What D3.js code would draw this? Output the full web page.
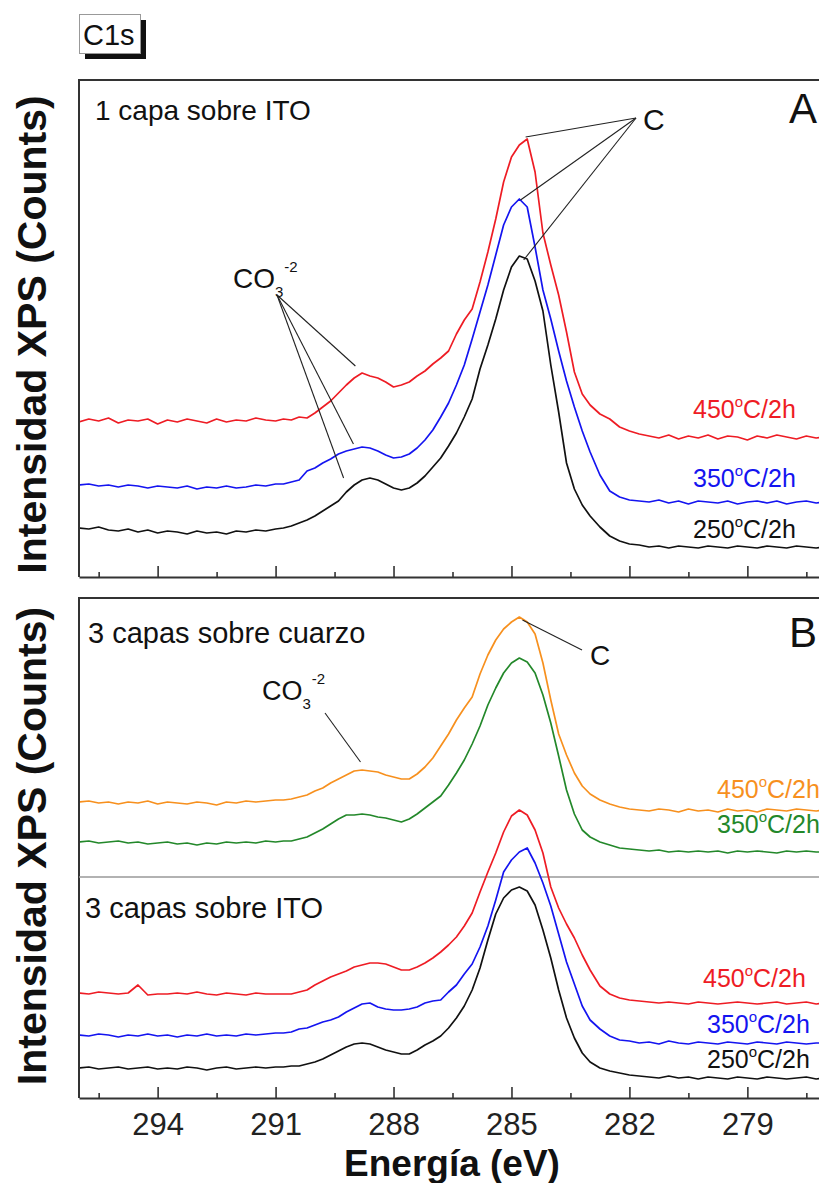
<!DOCTYPE html>
<html>
<head>
<meta charset="utf-8">
<script src="https://cdn.jsdelivr.net/npm/d3@7/dist/d3.min.js"></script>
<style>
  body { margin: 0; background: #fff; }
  svg { display: block; font-family: "Liberation Sans", Arial, sans-serif; }
</style>
</head>
<body>
<svg id="chart"></svg>
<script>
// C1s XPS spectra, two stacked panels

// Binding energy grid (eV), shared by every spectrum
const energy = [
  296, 295.75, 295.5, 295.25, 295, 294.75, 294.5, 294.25, 294, 293.75, 293.5, 293.25, 293, 292.75, 292.5, 292.25, 292, 291.75, 291.5, 291.25, 291,
  290.8, 290.6, 290.4, 290.2, 290.0, 289.8, 289.6, 289.4, 289.2, 289.0, 288.8, 288.6, 288.4, 288.2, 288.0, 287.8, 287.6, 287.4, 287.2, 287.0,
  286.8, 286.6, 286.4, 286.2, 286.0, 285.8, 285.6, 285.4, 285.2, 285.0, 284.8, 284.6, 284.4, 284.2, 284.0, 283.8, 283.6, 283.4, 283.2, 283.0,
  282.75, 282.5, 282.25, 282, 281.75, 281.5, 281.25, 281, 280.75, 280.5, 280.25, 280, 279.75, 279.5, 279.25, 279, 278.75, 278.5, 278.25, 278, 277.75, 277.5, 277.25, 277
];

// Panel A: 1 capa sobre ITO (counts, offset for display)
const itoOne450 = [
  155, 158, 156, 159, 154, 157, 156, 158, 153, 157, 155, 158, 156, 154, 158, 155, 157, 156, 159, 157, 156,
  158, 157, 160, 159, 164, 170, 176, 184, 192, 199, 204, 201, 199, 195, 190, 192, 195, 201, 206, 213,
  219, 226, 243, 257, 268, 295, 325, 358, 395, 420, 432, 438, 405, 344, 312, 282, 245, 205, 183, 172,
  163, 158, 150, 146, 143, 141, 139, 142, 138, 141, 139, 142, 138, 141, 140, 137, 141, 139, 142, 140, 138, 141, 139, 140
];
const itoOne350 = [
  92, 93, 91, 92, 90, 92, 91, 89, 91, 90, 89, 91, 88, 90, 89, 91, 89, 90, 92, 91, 93,
  93, 95, 97, 106, 109, 114, 118, 123, 126, 128, 130, 129, 126, 122, 119, 120, 123, 129, 137, 147,
  160, 174, 192, 212, 238, 265, 292, 322, 352, 370, 378, 370, 330, 287, 258, 226, 196, 170, 146, 125,
  102, 86, 80, 77, 76, 75, 77, 74, 76, 73, 76, 75, 74, 76, 73, 75, 76, 74, 76, 73, 75, 76, 74, 75
];
const itoOne250 = [
  49, 48, 50, 47, 46, 48, 45, 47, 44, 46, 45, 43, 46, 44, 45, 43, 46, 45, 47, 46, 48,
  49, 51, 54, 57, 61, 66, 71, 76, 85, 92, 97, 99, 97, 93, 89, 87, 89, 94, 101, 110,
  119, 131, 144, 160, 178, 208, 232, 258, 287, 310, 321, 318, 296, 266, 212, 165, 114, 88, 72, 61,
  50, 41, 36, 33, 32, 30, 31, 29, 31, 30, 29, 31, 30, 29, 31, 30, 29, 31, 30, 29, 31, 30, 29, 30
];

// Panel B: 3 capas sobre cuarzo
const quartz450 = [
  296, 297, 295, 296, 294, 296, 295, 297, 294, 296, 295, 294, 296, 295, 293, 296, 295, 297, 296, 297, 298,
  298, 299, 301, 303, 307, 310, 315, 319, 323, 327, 328, 327, 326, 323, 321, 319, 319, 324, 331, 340,
  352, 364, 378, 390, 401, 424, 443, 458, 469, 476, 481, 476, 464, 435, 398, 364, 343, 325, 312, 304,
  298, 294, 291, 289, 288, 287, 289, 288, 286, 289, 287, 288, 286, 289, 287, 288, 286, 289, 288, 287, 289, 288, 287, 288
];
const quartz350 = [
  256, 257, 255, 256, 257, 255, 256, 254, 255, 256, 254, 255, 253, 255, 254, 256, 255, 256, 255, 257, 256,
  257, 257, 259, 261, 265, 269, 274, 279, 283, 283, 284, 283, 281, 280, 278, 276, 279, 284, 290, 296,
  302, 313, 325, 338, 354, 372, 393, 410, 425, 435, 440, 436, 425, 403, 375, 342, 308, 284, 268, 261,
  256, 253, 250, 249, 248, 247, 248, 246, 247, 246, 247, 246, 247, 245, 247, 246, 247, 246, 245, 247, 246, 247, 246, 246
];

// Panel B: 3 capas sobre ITO
const itoThree450 = [
  105, 104, 106, 105, 104, 105, 113, 103, 104, 104, 105, 104, 106, 104, 103, 105, 104, 103, 105, 104, 104,
  104, 104, 106, 108, 113, 117, 121, 124, 127, 131, 133, 135, 135, 134, 131, 128, 128, 131, 135, 140,
  146, 153, 161, 172, 185, 206, 226, 245, 266, 282, 288, 283, 268, 245, 211, 190, 174, 160, 143, 128,
  112, 104, 100, 98, 97, 96, 95, 96, 95, 94, 96, 95, 94, 95, 96, 95, 94, 95, 96, 94, 95, 96, 94, 95
];
const itoThree350 = [
  63, 62, 64, 63, 61, 63, 62, 64, 62, 63, 61, 63, 62, 64, 62, 63, 62, 64, 63, 64, 65,
  65, 66, 69, 70, 73, 76, 78, 81, 86, 90, 94, 95, 91, 89, 88, 88, 89, 91, 95, 97,
  98, 106, 113, 124, 134, 151, 172, 198, 226, 238, 246, 250, 235, 215, 192, 164, 136, 114, 92, 78,
  69, 62, 58, 57, 55, 56, 54, 57, 55, 54, 56, 55, 54, 56, 55, 54, 56, 55, 54, 56, 55, 54, 55, 55
];
const itoThree250 = [
  30, 31, 29, 30, 31, 29, 30, 31, 29, 30, 29, 31, 30, 28, 30, 31, 29, 30, 31, 30, 31,
  31, 32, 32, 34, 36, 39, 43, 47, 51, 54, 55, 54, 51, 48, 46, 44, 44, 48, 53, 57,
  62, 70, 80, 92, 108, 130, 158, 184, 200, 208, 211, 207, 193, 168, 140, 108, 80, 60, 45, 36,
  30, 27, 25, 23, 22, 21, 20, 22, 20, 21, 19, 21, 20, 19, 21, 20, 19, 21, 20, 19, 20, 21, 19, 20
];

// Axis ticks
const majorTicks = [294, 291, 288, 285, 282, 279];
const minorTicks = [295.5, 292.5, 289.5, 286.5, 283.5, 280.5, 277.5];
const tickLabels = ['294', '291', '288', '285', '282', '279'];

// Layout
const width = 819;
const height = 1183;
const plotLeft = 79;
const plotRight = 826;
const A = { top: 80, bottom: 577 };
const B = { top: 598, bottom: 1098, split: 877 };

const colors = { red: '#ee1c24', blue: '#1414f0', black: '#111111', orange: '#f7901e', green: '#23882a' };
const frameColor = '#333';

const x = d3.scaleLinear().domain([296, 277]).range([plotLeft, plotRight]);
const yA = d3.scaleLinear().domain([0, 497]).range([A.bottom, A.top]);
const yB = d3.scaleLinear().domain([0, 500]).range([B.bottom, B.top]);

const svg = d3.select('#chart')
    .attr('width', width)
    .attr('height', height);

const defs = svg.append('defs');
[['clipA', A], ['clipB', B]].forEach(([id, p]) => {
    defs.append('clipPath').attr('id', id)
        .append('rect')
        .attr('x', plotLeft + 1)
        .attr('y', p.top + 1)
        .attr('width', plotRight - plotLeft)
        .attr('height', p.bottom - p.top - 2);
});

// Frames (left + top; right side is cut off) and inward bottom ticks
function drawFrame(p, showLabels) {
    svg.append('path')
        .attr('d', `M${plotRight},${p.top}H${plotLeft}V${p.bottom}`)
        .attr('fill', 'none')
        .attr('stroke', frameColor)
        .attr('stroke-width', 2);

    const major = svg.append('g')
        .attr('transform', `translate(0,${p.bottom})`)
        .call(d3.axisBottom(x)
            .tickValues(majorTicks)
            .tickSize(-11)
            .tickSizeOuter(0)
            .tickPadding(15)
            .tickFormat((d, i) => showLabels ? tickLabels[i] : ''));
    major.select('.domain').attr('stroke', frameColor).attr('stroke-width', 2);
    major.selectAll('.tick line').attr('stroke', frameColor).attr('stroke-width', 1.6);
    major.selectAll('.tick text')
        .attr('font-size', 31)
        .attr('fill', '#222')
        .attr('font-family', '"Liberation Sans", Arial, sans-serif');

    const minor = svg.append('g')
        .attr('transform', `translate(0,${p.bottom})`)
        .call(d3.axisBottom(x)
            .tickValues(minorTicks)
            .tickSize(-5)
            .tickSizeOuter(0)
            .tickFormat(''));
    minor.select('.domain').remove();
    minor.selectAll('.tick line').attr('stroke', frameColor).attr('stroke-width', 1.6);
}
drawFrame(A, false);
drawFrame(B, true);

// Divider between quartz and ITO samples in panel B
svg.append('line')
    .attr('x1', plotLeft).attr('x2', plotRight)
    .attr('y1', B.split).attr('y2', B.split)
    .attr('stroke', '#999')
    .attr('stroke-width', 1.5);

// Spectra
function drawSpectra(list, y, clipId) {
    const line = d3.line()
        .x((d, i) => x(energy[i]))
        .y(d => y(d));
    svg.append('g')
        .attr('clip-path', `url(#${clipId})`)
        .selectAll('path')
        .data(list)
        .enter().append('path')
        .attr('d', d => line(d.values))
        .attr('fill', 'none')
        .attr('stroke', d => d.color)
        .attr('stroke-width', 1.7)
        .attr('stroke-linejoin', 'round');
}

drawSpectra([
    { values: itoOne250, color: colors.black },
    { values: itoOne350, color: colors.blue },
    { values: itoOne450, color: colors.red }
], yA, 'clipA');

drawSpectra([
    { values: quartz350, color: colors.green },
    { values: quartz450, color: colors.orange },
    { values: itoThree250, color: colors.black },
    { values: itoThree350, color: colors.blue },
    { values: itoThree450, color: colors.red }
], yB, 'clipB');

// Temperature labels like 450°C/2h with a raised "o"
function tempLabel(tx, ty, temp, color) {
    const t = svg.append('text')
        .attr('x', tx).attr('y', ty)
        .attr('font-size', 25)
        .attr('fill', color);
    t.append('tspan').text(temp);
    t.append('tspan').attr('dy', -11).attr('font-size', 15).text('o');
    t.append('tspan').attr('dy', 11).text('C/2h');
}
tempLabel(693, 418, '450', colors.red);
tempLabel(693, 487, '350', colors.blue);
tempLabel(693, 538, '250', colors.black);
tempLabel(717, 798, '450', colors.orange);
tempLabel(717, 833, '350', colors.green);
tempLabel(703, 987, '450', colors.red);
tempLabel(707, 1033, '350', colors.blue);
tempLabel(707, 1068, '250', colors.black);

// Sample descriptions and panel letters
const plain = [
    { text: '1 capa sobre ITO', x: 95, y: 120, size: 28 },
    { text: '3 capas sobre cuarzo', x: 88, y: 643, size: 29 },
    { text: '3 capas sobre ITO', x: 85, y: 918, size: 29 },
    { text: 'A', x: 789, y: 123, size: 42 },
    { text: 'B', x: 789, y: 647, size: 42 }
];
svg.selectAll('.plain')
    .data(plain)
    .enter().append('text')
    .attr('class', 'plain')
    .attr('x', d => d.x)
    .attr('y', d => d.y)
    .attr('font-size', d => d.size)
    .attr('fill', '#111')
    .text(d => d.text);

// Peak annotations
function pointer(x1, y1, targets) {
    targets.forEach(([e, yv]) => {
        svg.append('line')
            .attr('x1', x1).attr('y1', y1)
            .attr('x2', x(e)).attr('y2', yv)
            .attr('stroke', '#222')
            .attr('stroke-width', 1.1);
    });
}
function carbonate(tx, ty, size) {
    const t = svg.append('text')
        .attr('x', tx).attr('y', ty)
        .attr('font-size', size)
        .attr('fill', '#111');
    t.append('tspan').text('CO');
    t.append('tspan').attr('dy', 9).attr('font-size', 15).text('3');
    t.append('tspan').attr('dx', 1).attr('dy', -25).attr('font-size', 15).text('-2');
}

svg.append('text').attr('x', 643).attr('y', 130).attr('font-size', 30).attr('fill', '#111').text('C');
pointer(636, 118, [[284.64, yA(440)], [284.77, yA(377)], [284.69, yA(317)]]);

carbonate(233, 288, 28);
pointer(277, 295, [[288.97, yA(211)], [289.02, yA(133)], [289.27, yA(99)]]);

svg.append('text').attr('x', 590).attr('y', 665).attr('font-size', 28).attr('fill', '#111').text('C');
pointer(582, 650, [[284.72, yB(478)]]);

carbonate(262, 700, 27);
pointer(325, 713, [[288.84, yB(336)]]);

// Core-level tag
svg.append('rect')
    .attr('x', 85).attr('y', 20).attr('width', 61).attr('height', 39)
    .attr('fill', '#111');
svg.append('rect')
    .attr('x', 79.5).attr('y', 14.5).attr('width', 61).attr('height', 39)
    .attr('fill', '#fff')
    .attr('stroke', '#999');
svg.append('text')
    .attr('x', 83).attr('y', 45)
    .attr('font-size', 29)
    .attr('fill', '#111')
    .text('C1s');

// Axis titles
[(A.top + A.bottom) / 2 + 6, (B.top + B.bottom) / 2 - 2].forEach(cy => {
    svg.append('text')
        .attr('transform', `translate(46,${cy}) rotate(-90)`)
        .attr('text-anchor', 'middle')
        .attr('font-size', 41)
        .attr('font-weight', 'bold')
        .attr('fill', '#111')
        .text('Intensidad XPS (Counts)');
});

svg.append('text')
    .attr('x', 452).attr('y', 1176)
    .attr('text-anchor', 'middle')
    .attr('font-size', 37)
    .attr('font-weight', 'bold')
    .attr('fill', '#111')
    .text('Energía (eV)');
</script>
</body>
</html>
